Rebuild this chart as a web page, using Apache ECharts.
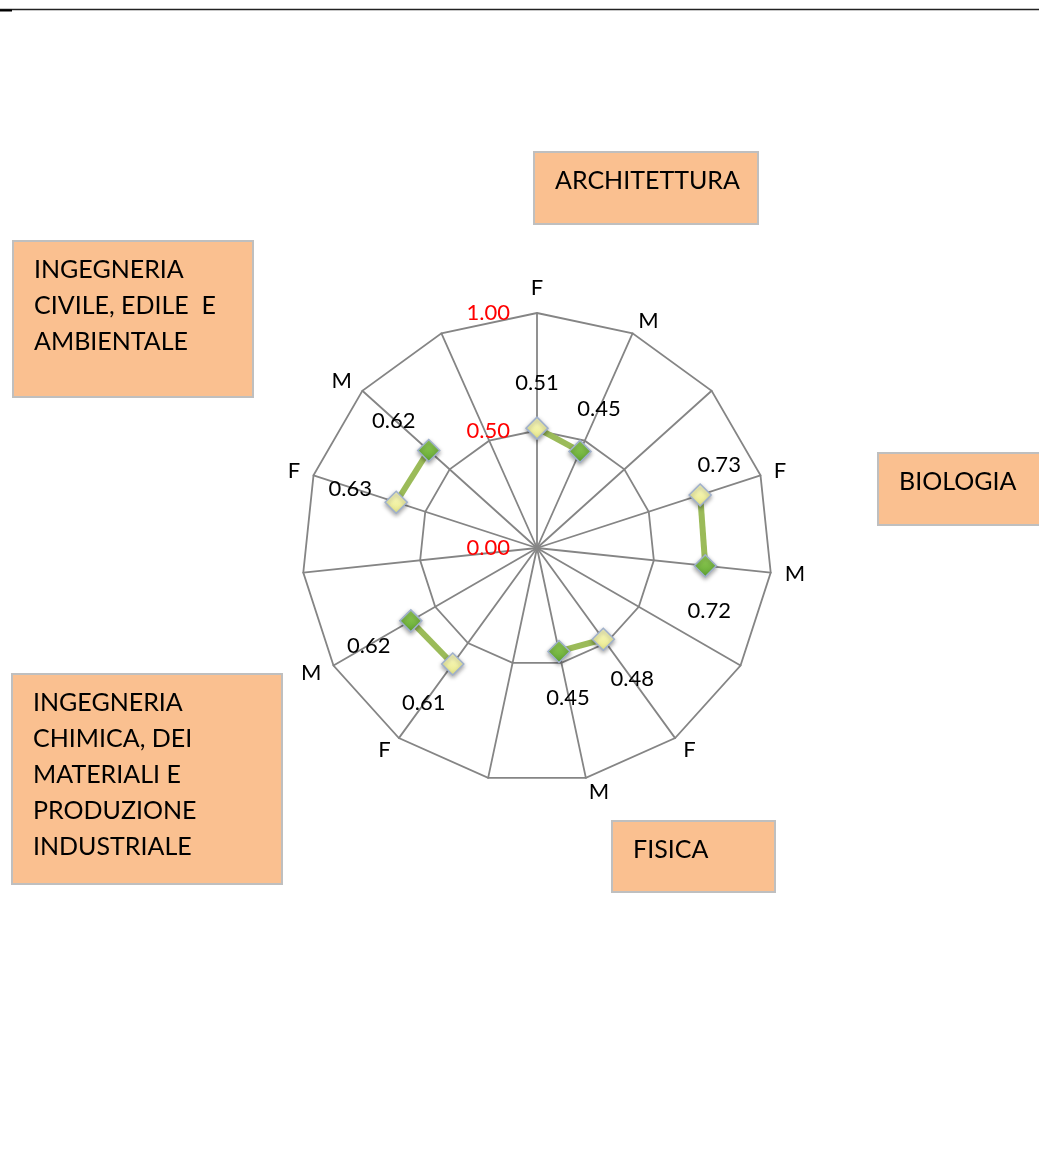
<!DOCTYPE html>
<html>
<head>
<meta charset="utf-8">
<script src="https://cdn.jsdelivr.net/npm/echarts@6/dist/echarts.min.js"></script>
<style>
html,body{margin:0;padding:0;background:#fff;}
#chart{width:1039px;height:1160px;}
</style>
</head>
<body>
<div id="chart"></div>
<script>
// ---- data ----
const axisLabels = ['F','M','','F','M','','F','M','','F','M','','F','M',''];
const departments = ['ARCHITETTURA','BIOLOGIA','FISICA','INGEGNERIA\nCHIMICA, DEI\nMATERIALI E\nPRODUZIONE\nINDUSTRIALE','INGEGNERIA\nCIVILE, EDILE  E\nAMBIENTALE'];
const femaleValues = [0.51, 0.73, 0.48, 0.61, 0.63];
const maleValues   = [0.45, 0.72, 0.45, 0.62, 0.62];
const radiusTicks  = [0, 0.5, 1];

// ---- layout / style (not data) ----
const CX = 537, CY = 548, R = 235;
const FONT = 'Lato';
// label offsets [dx,dy] for F and M points of each department
const femaleLabelOffset = [[0,-45],[19,-30],[29,40],[-29,39],[-46,-13]];
const maleLabelOffset   = [[19,-42],[4,45],[9,46],[-42,25],[-35,-30]];
const boxes = [
  {x:534, y:152, w:224, h:72},
  {x:878, y:453, w:180, h:72},
  {x:612, y:821, w:163, h:71},
  {x:12,  y:674, w:270, h:210},
  {x:13,  y:241, w:240, h:156}
];

const yellowFill = new echarts.graphic.LinearGradient(0,0,0,1,[{offset:0,color:'#fbfbc8'},{offset:1,color:'#e9e98a'}]);
const greenFill  = new echarts.graphic.LinearGradient(0,0,0,1,[{offset:0,color:'#9ad35c'},{offset:1,color:'#5fa531'}]);

const n = axisLabels.length;
const series = departments.map(function(dep, d){
  const data = new Array(n).fill(null);
  data[3*d] = {
    value: femaleValues[d],
    itemStyle: {color: yellowFill},
    label: {offset: femaleLabelOffset[d]}
  };
  data[3*d+1] = {
    value: maleValues[d],
    itemStyle: {color: greenFill},
    label: {offset: maleLabelOffset[d]}
  };
  return {
    name: dep,
    type: 'line',
    coordinateSystem: 'polar',
    polarIndex: 0,
    data: data,
    connectNulls: false,
    symbol: 'diamond',
    symbolSize: 22,
    lineStyle: {color: '#9bbb59', width: 6},
    itemStyle: {borderColor: '#9fb0cc', borderWidth: 1.5, shadowColor:'rgba(0,0,0,0.35)', shadowBlur:4, shadowOffsetY:2},
    label: {
      show: true, position: 'inside', color: '#000', fontFamily: FONT, fontSize: 22,
      formatter: function(p){ return p.value.toFixed(2); }
    },
    animation: false,
    z: 5
  };
});

const indicators = [];
for (let i = 0; i < n; i++) {
  indicators.push({name: axisLabels[(n - i) % n], min: 0, max: 1});
}

const graphics = [
  {type:'line', shape:{x1:0, y1:9.5, x2:1039, y2:9.5}, style:{stroke:'#222', lineWidth:1.5}},
  {type:'line', shape:{x1:0, y1:10.5, x2:12, y2:10.5}, style:{stroke:'#000', lineWidth:2}}
];
boxes.forEach(function(b, d){
  graphics.push({type:'rect', shape:{x:b.x, y:b.y, width:b.w, height:b.h},
    style:{fill:'#fac090', stroke:'#bfbfbf', lineWidth:2}, z:1});
  graphics.push({type:'text', x:b.x+21, y:b.y+11,
    style:{text:departments[d], fill:'#000', font:'25px ' + FONT, lineHeight:36, textVerticalAlign:'top', textAlign:'left'}, z:2});
});

const chart = echarts.init(document.getElementById('chart'), null, {renderer:'canvas'});
chart.setOption({
  animation: false,
  backgroundColor: '#fff',
  radar: {
    center: [CX, CY],
    radius: R,
    startAngle: 90,
    splitNumber: 2,
    shape: 'polygon',
    indicator: indicators,
    axisName: {color:'#000', fontFamily: FONT, fontSize: 22},
    nameGap: 14,
    axisLine: {lineStyle:{color:'#858585', width:1.8}},
    splitLine: {lineStyle:{color:'#858585', width:1.8}},
    splitArea: {show:false},
    axisTick: {show:false},
    axisLabel: {show:false}
  },
  polar: {center: [CX, CY], radius: R},
  angleAxis: {
    type: 'category', data: axisLabels, startAngle: 90, clockwise: true, boundaryGap: false,
    axisLine:{show:false}, axisTick:{show:false}, axisLabel:{show:false}, splitLine:{show:false}
  },
  radiusAxis: {
    type: 'value', min: radiusTicks[0], max: radiusTicks[radiusTicks.length-1], interval: radiusTicks[1]-radiusTicks[0],
    axisLine:{show:false}, axisTick:{show:false}, splitLine:{show:false},
    axisLabel:{show:true, color:'#ff0000', fontFamily: FONT, fontSize: 22, margin: 27,
      formatter: function(v){ return v.toFixed(2); }}
  },
  graphic: graphics,
  series: series
});
</script>
</body>
</html>
